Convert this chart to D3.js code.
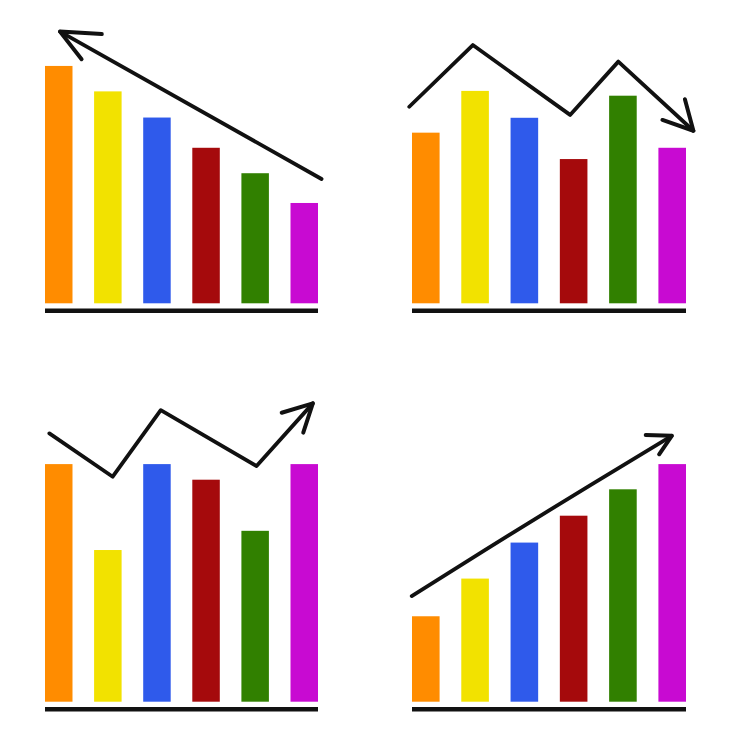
<!DOCTYPE html>
<html>
<head>
<meta charset="utf-8">
<script src="https://cdn.jsdelivr.net/npm/d3@7"></script>
<style>
  html, body { margin: 0; padding: 0; background: #fff; }
  svg { display: block; }
</style>
</head>
<body>
<svg id="chart" width="740" height="740"></svg>
<script>
// ---- data ----
const categories = ["A", "B", "C", "D", "E", "F"];
const colors = ["#FF8C00", "#F2E200", "#2F5AEB", "#A50A0C", "#318000", "#C80AD2"];

const valuesTopLeft     = [98.9, 88.3, 77.4, 64.8, 54.2, 41.8];
const valuesTopRight    = [71.1, 88.5, 77.3, 60.1, 86.5, 64.8];
const valuesBottomLeft  = [99.0, 63.2, 99.0, 92.5, 71.2, 99.0];
const valuesBottomRight = [35.6, 51.3, 66.3, 77.5, 88.5, 99.0];

// trend arrows: [fraction across panel, value]
const trendTopLeft     = [[1.013, 51.8], [0.055, 113.2]];
const headTopLeft      = [[0.208, 112.2], [0.055, 113.2], [0.134, 101.7]];
const trendTopRight    = [[-0.010, 81.9], [0.222, 107.6], [0.577, 78.5], [0.753, 100.7], [1.027, 71.9]];
const headTopRight     = [[0.996, 85.0], [1.027, 71.9], [0.914, 76.4]];
const trendBottomLeft  = [[0.016, 111.8], [0.248, 93.75], [0.424, 121.5], [0.775, 98.2], [0.981, 124.3]];
const headBottomLeft   = [[0.867, 120.4], [0.981, 124.3], [0.946, 112.1]];
const trendBottomRight = [[-0.001, 44.0], [0.443, 75.7], [0.948, 110.8]];
const headBottomRight  = [[0.853, 111.1], [0.948, 110.8], [0.902, 103.1]];

// ---- layout ----
const panels = [
  { values: valuesTopLeft,     trend: trendTopLeft,     head: headTopLeft,     x0: 45,  x1: 318, base: 303.3, curve: d3.curveLinear },
  { values: valuesTopRight,    trend: trendTopRight,    head: headTopRight,    x0: 412, x1: 686, base: 303.3, curve: d3.curveLinear },
  { values: valuesBottomLeft,  trend: trendBottomLeft,  head: headBottomLeft,  x0: 45,  x1: 318, base: 701.7, curve: d3.curveLinear },
  { values: valuesBottomRight, trend: trendBottomRight, head: headBottomRight, x0: 412, x1: 686, base: 701.7, curve: d3.curveCatmullRom }
];

const svg = d3.select("#chart");
svg.append("rect").attr("width", 740).attr("height", 740).attr("fill", "#fff");

panels.forEach(p => {
  const g = svg.append("g");
  const x = d3.scaleBand().domain(categories).range([p.x0, p.x1]).paddingInner(0.44).paddingOuter(0);
  const y = d3.scaleLinear().domain([0, 100]).range([p.base, p.base - 240]);
  const fx = d3.scaleLinear().domain([0, 1]).range([p.x0, p.x1]);

  g.selectAll("rect.bar")
    .data(p.values)
    .join("rect")
    .attr("class", "bar")
    .attr("x", (d, i) => x(categories[i]))
    .attr("width", x.bandwidth())
    .attr("y", d => y(d))
    .attr("height", d => y(0) - y(d))
    .attr("fill", (d, i) => colors[i]);

  // baseline
  g.append("line")
    .attr("x1", p.x0).attr("x2", p.x1)
    .attr("y1", y(0) + 7.5).attr("y2", y(0) + 7.5)
    .attr("stroke", "#111").attr("stroke-width", 4.5);

  const line = d3.line().x(d => fx(d[0])).y(d => y(d[1])).curve(p.curve);
  g.append("path")
    .attr("d", line(p.trend))
    .attr("fill", "none").attr("stroke", "#111").attr("stroke-width", 3.8)
    .attr("stroke-linejoin", "round").attr("stroke-linecap", "round");
  g.append("path")
    .attr("d", d3.line().x(d => fx(d[0])).y(d => y(d[1]))(p.head))
    .attr("fill", "none").attr("stroke", "#111").attr("stroke-width", 4)
    .attr("stroke-linejoin", "round").attr("stroke-linecap", "round");
});
</script>
</body>
</html>
